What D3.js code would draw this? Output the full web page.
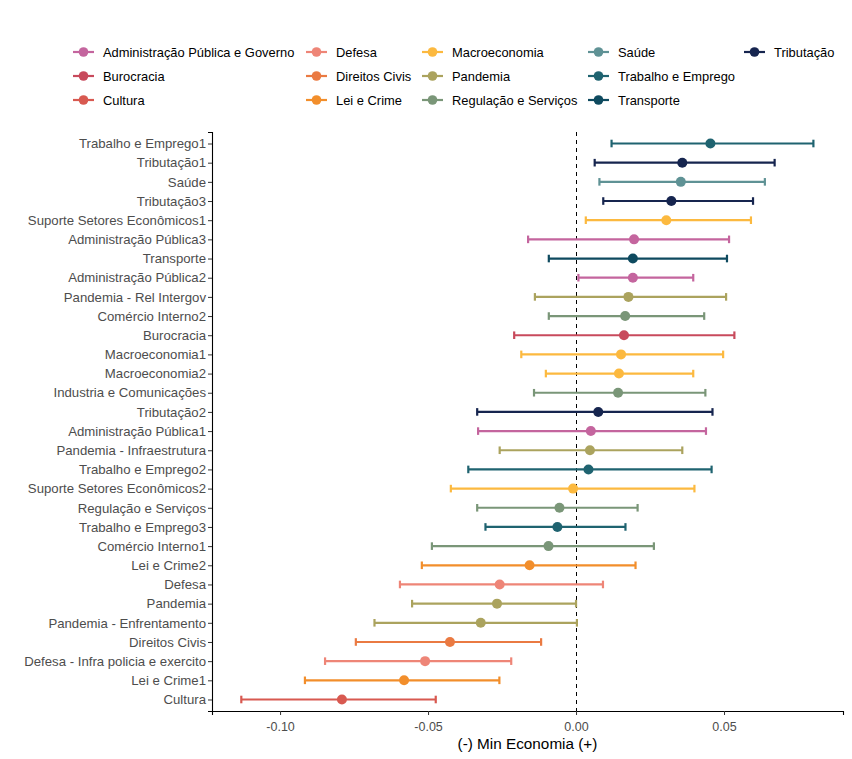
<!DOCTYPE html>
<html><head><meta charset="utf-8">
<script src="https://cdn.jsdelivr.net/npm/d3@7"></script>
<style>body{margin:0;background:#fff;} svg{display:block;font-family:"Liberation Sans",Arial,sans-serif;}</style>
</head><body>
<svg id="c" width="852" height="759"></svg>
<script>
const labels = ["Trabalho e Emprego1","Tributação1","Saúde","Tributação3","Suporte Setores Econômicos1","Administração Pública3","Transporte","Administração Pública2","Pandemia - Rel Intergov","Comércio Interno2","Burocracia","Macroeconomia1","Macroeconomia2","Industria e Comunicações","Tributação2","Administração Pública1","Pandemia - Infraestrutura","Trabalho e Emprego2","Suporte Setores Econômicos2","Regulação e Serviços","Trabalho e Emprego3","Comércio Interno1","Lei e Crime2","Defesa","Pandemia","Pandemia - Enfrentamento","Direitos Civis","Defesa - Infra policia e exercito","Lei e Crime1","Cultura"];
const groups = ["Trabalho e Emprego","Tributação","Saúde","Tributação","Macroeconomia","Administração Pública e Governo","Transporte","Administração Pública e Governo","Pandemia","Regulação e Serviços","Burocracia","Macroeconomia","Macroeconomia","Regulação e Serviços","Tributação","Administração Pública e Governo","Pandemia","Trabalho e Emprego","Macroeconomia","Regulação e Serviços","Trabalho e Emprego","Regulação e Serviços","Lei e Crime","Defesa","Pandemia","Pandemia","Direitos Civis","Defesa","Lei e Crime","Cultura"];
const estimate = [0.0454,0.0359,0.0354,0.0322,0.0305,0.0196,0.0192,0.0192,0.0177,0.0166,0.0162,0.0152,0.0145,0.0142,0.0075,0.0050,0.0047,0.0042,-0.0010,-0.0056,-0.0063,-0.0093,-0.0157,-0.0258,-0.0267,-0.0322,-0.0426,-0.0510,-0.0581,-0.0791];
const lower = [0.0120,0.0063,0.0079,0.0092,0.0033,-0.0162,-0.0092,0.0008,-0.0139,-0.0092,-0.0209,-0.0185,-0.0102,-0.0142,-0.0334,-0.0331,-0.0258,-0.0364,-0.0423,-0.0334,-0.0306,-0.0487,-0.0521,-0.0595,-0.0554,-0.0681,-0.0744,-0.0848,-0.0916,-0.1131];
const upper = [0.0802,0.0671,0.0638,0.0598,0.0591,0.0517,0.0510,0.0396,0.0507,0.0433,0.0535,0.0497,0.0396,0.0437,0.0461,0.0439,0.0359,0.0458,0.0400,0.0208,0.0167,0.0263,0.0201,0.0091,0.0000,0.0003,-0.0118,-0.0219,-0.0259,-0.0474];
const legendNames = ["Administração Pública e Governo","Burocracia","Cultura","Defesa","Direitos Civis","Lei e Crime","Macroeconomia","Pandemia","Regulação e Serviços","Saúde","Trabalho e Emprego","Transporte","Tributação"];
const legendColors = ["#C4659E","#C84A5C","#D85950","#EE8577","#EA7A42","#F28E2B","#FCB93F","#ABA35E","#7A9678","#5F9295","#1F6370","#0E4A5F","#16254F"];
const xTicks = [-0.10,-0.05,0.00,0.05];

const svg = d3.select("#c");
const color = d3.scaleOrdinal().domain(legendNames).range(legendColors);
const x = d3.scaleLinear().domain([-0.1230,0.0902]).range([212,843]);
const y = d3.scalePoint().domain(labels).range([132,711]).padding(0.6);
const rows = labels.map((l,i)=>({l,g:groups[i],e:estimate[i],lo:lower[i],hi:upper[i]}));

// zero line
const zx = Math.round(x(0)) + 0.5;
svg.append("line").attr("x1",zx).attr("x2",zx).attr("y1",132).attr("y2",711)
  .attr("stroke","#000").attr("stroke-width",1).attr("stroke-dasharray","4,4");

// error bars
const g = svg.append("g");
rows.forEach(r=>{
  const c = color(r.g), yy = y(r.l);
  g.append("line").attr("x1",x(r.lo)).attr("x2",x(r.hi)).attr("y1",yy).attr("y2",yy).attr("stroke",c).attr("stroke-width",2.2);
  [r.lo,r.hi].forEach(v=>g.append("line").attr("x1",x(v)).attr("x2",x(v)).attr("y1",yy-3.8).attr("y2",yy+3.8).attr("stroke",c).attr("stroke-width",2.2));
  g.append("circle").attr("cx",x(r.e)).attr("cy",yy).attr("r",5).attr("fill",c);
});

// axes
const fmt = v => d3.format(".2f")(v).replace("\u2212","-");
const xa = svg.append("g").attr("transform","translate(0,711)").call(d3.axisBottom(x).tickValues(xTicks).tickFormat(fmt).tickSizeOuter(0).tickSize(4));
xa.select(".domain").attr("stroke","#000").attr("stroke-width",1.1);
xa.selectAll(".tick line").attr("stroke","#333");
xa.selectAll("text").attr("font-size","12.5px").attr("fill","#4D4D4D").attr("dy","1.0em").attr("font-family","Liberation Sans, Arial, sans-serif");
const ya = svg.append("g").attr("transform","translate(212,0)").call(d3.axisLeft(y).tickSizeOuter(0).tickSize(4));
ya.select(".domain").attr("stroke","#000").attr("stroke-width",1.1);
ya.selectAll(".tick line").attr("stroke","#333");
ya.selectAll("text").attr("font-size","13.2px").attr("fill","#4D4D4D").attr("font-family","Liberation Sans, Arial, sans-serif").attr("x",-6);

svg.append("text").attr("x",(212+843)/2).attr("y",749).attr("text-anchor","middle").attr("font-size","15.3px").attr("fill","#000").text("(-) Min Economia (+)");

// legend
const colX = [73,306,422,588,744];
const rowY = [52,76,100];
legendNames.forEach((n,i)=>{
  const ci = Math.floor(i/3), ri = i%3;
  const lx = colX[ci], ly = rowY[ri], c = legendColors[i];
  svg.append("line").attr("x1",lx).attr("x2",lx+21).attr("y1",ly).attr("y2",ly).attr("stroke",c).attr("stroke-width",2.2);
  svg.append("circle").attr("cx",lx+10.5).attr("cy",ly).attr("r",4.8).attr("fill",c);
  svg.append("text").attr("x",lx+30).attr("y",ly).attr("dy","0.35em").attr("font-size","12.9px").attr("fill","#000").text(n);
});
</script>
</body></html>
